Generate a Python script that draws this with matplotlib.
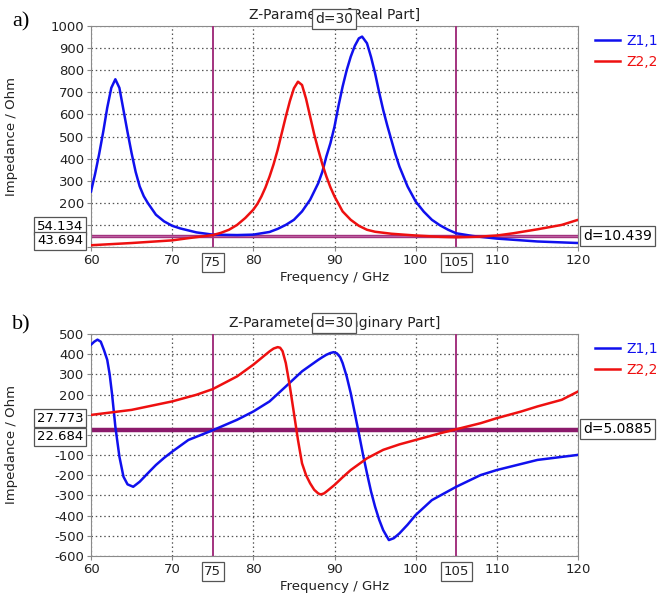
import numpy as np
import matplotlib
matplotlib.use("Agg")
from matplotlib import pyplot as plt

# ---- data ----
freq_re_z11 = [60, 60.5, 61, 61.5, 62, 62.5, 63, 63.5, 64, 64.5, 65, 65.5, 66, 66.5, 67, 68, 69, 70, 71, 72, 73, 75,
               78, 80, 82, 83, 84, 85, 86, 87, 88, 88.5, 89, 89.5, 90, 90.5, 91, 91.5, 92, 92.5, 93, 93.4, 94, 94.5,
               95, 95.5, 96, 96.5, 97, 97.5, 98, 99, 100, 101, 102, 103, 104, 105, 107, 110, 115, 120]
re_z11 = [251, 330, 420, 520, 630, 720, 759, 720, 620, 520, 425, 340, 274, 230, 199, 146, 116, 96, 84, 75, 66, 56,
          54, 56, 68, 82, 100, 123, 161, 214, 289, 340, 410, 470, 545, 640, 726, 800, 861, 910, 944, 952, 922, 860,
          786, 700, 620, 550, 485, 420, 364, 274, 206, 160, 123, 98, 78, 62, 50, 38, 25, 18]

freq_re_z22 = [60, 65, 70, 72, 75, 76, 77, 78, 79, 80, 80.5, 81, 81.5, 82, 82.5, 83, 83.5, 84, 84.5, 85, 85.5, 86,
               86.5, 87, 87.5, 88, 88.5, 89, 89.5, 90, 91, 92, 93, 94, 95, 97, 100, 103, 105, 108, 110, 112, 115, 118,
               120]
re_z22 = [8, 18, 30, 40, 54, 64, 78, 100, 131, 169, 195, 229, 270, 319, 375, 440, 515, 590, 660, 718, 748, 733, 670,
          590, 510, 440, 375, 319, 270, 229, 161, 123, 96, 78, 69, 60, 52, 46, 44, 47, 52, 62, 80, 100, 123]

freq_im_z11 = [60, 60.4, 60.8, 61.2, 61.6, 62, 62.3, 62.6, 63, 63.5, 64, 64.5, 65.2, 66, 67, 68, 69, 70, 72, 75, 78,
               80, 82, 84, 86, 88, 88.5, 89, 89.5, 89.9, 90.3, 90.7, 91, 91.5, 92, 92.5, 93, 93.5, 94, 94.5, 95, 95.5,
               96, 96.7, 97.3, 98, 99, 100, 102, 105, 108, 110, 115, 120]
im_z11 = [447, 462, 472, 462, 420, 372, 300, 200, 41, -108, -207, -245, -257, -232, -190, -149, -114, -83, -25, 23,
          75, 116, 166, 240, 315, 372, 385, 397, 406, 410, 404, 385, 356, 290, 207, 108, 8, -95, -190, -280, -356, -420,
          -472, -521, -512, -488, -445, -397, -323, -257, -199, -174, -124, -99]

freq_im_z22 = [60, 65, 70, 73, 75, 78, 80, 82, 82.5, 83, 83.3, 83.6, 84, 84.5, 85, 85.5, 86, 86.5, 87, 87.5, 88, 88.3,
               88.7, 89, 90, 91, 92, 94, 96, 98, 100, 103, 105, 108, 110, 113, 115, 118, 120]
im_z22 = [99, 124, 166, 199, 227, 290, 348, 414, 428, 435, 432, 415, 356, 240, 108, -25, -141, -200, -240, -272, -290,
          -295, -290, -281, -248, -210, -174, -116, -74, -47, -25, 8, 28, 58, 83, 116, 141, 174, 215]

markers_x = [75, 105]
markers_re = [54.134, 43.694]
markers_im = [27.773, 22.684]
d_re = "d=10.439"
d_im = "d=5.0885"

W, H = 665, 606
plt.rcParams["font.family"] = ["DejaVu Sans"]
fig = plt.figure(figsize=(W / 100, H / 100), dpi=100)

BLUE = "#1010ee"
RED = "#ee1010"
MAG = "#a3337f"
GRID = "#555555"
SPINE = "#8a8a8a"


def px(x, y):
    return x / W, 1 - y / H


box = dict(boxstyle="square,pad=0.2", fc="white", ec="#555555", lw=0.9)


def style_axes(ax, ylim, yticks, hide):
    ax.set_xlim(60, 120)
    ax.set_ylim(*ylim)
    ax.set_xticks([60, 70, 80, 90, 100, 110, 120])
    ax.set_yticks(yticks)
    ax.set_yticklabels(["" if t in hide else str(t) for t in yticks])
    ax.grid(True, color=GRID, linestyle=(0, (1.2, 2.2)), linewidth=0.9)
    ax.tick_params(labelsize=9.5, length=3, color=SPINE, labelcolor="#222222", pad=2)
    for s in ax.spines.values():
        s.set_color(SPINE)
    ax.set_xlabel("Frequency / GHz", fontsize=9.5, color="#222222", labelpad=3)
    ax.set_ylabel("Impedance / Ohm", fontsize=9.5, color="#222222")
    ax.yaxis.set_label_coords(-0.15, 0.5)
    for m in markers_x:
        ax.axvline(m, color=MAG, lw=1.4, zorder=3)
        ax.text(m, -0.07, str(m), transform=ax.get_xaxis_transform(), ha="center", va="center",
                fontsize=9.5, color="#222222", bbox=box)


# ---- a) real part ----
ax1 = fig.add_axes([91 / W, 1 - 247 / H, 487 / W, 221 / H])
style_axes(ax1, (0, 1000), list(range(0, 1001, 100)), [0, 100])
ax1.axhspan(markers_re[1], markers_re[0], color="#c060a8", alpha=0.85, lw=0, zorder=2)
for v in markers_re:
    ax1.axhline(v, color=MAG, lw=1.0, zorder=2)
ax1.plot(freq_re_z11, re_z11, color=BLUE, lw=1.8, label="Z1,1", zorder=4)
ax1.plot(freq_re_z22, re_z22, color=RED, lw=1.8, label="Z2,2", zorder=4)
ax1.set_title("Z-Parameters [Real Part]", fontsize=10, color="#222222", pad=5)
ax1.legend(loc="upper left", bbox_to_anchor=(1.01, 1.02), frameon=False, labelcolor="linecolor",
           fontsize=10, handlelength=1.8, handletextpad=0.4, labelspacing=0.5)

# ---- b) imaginary part ----
ax2 = fig.add_axes([91 / W, 1 - 556 / H, 487 / W, 222 / H])
style_axes(ax2, (-600, 500), list(range(-600, 501, 100)), [0, 100])
ax2.axhspan(markers_im[1], markers_im[0], color="#8b1a6b", lw=2.5, zorder=2)
ax2.plot(freq_im_z11, im_z11, color=BLUE, lw=1.8, label="Z1,1", zorder=4)
ax2.plot(freq_im_z22, im_z22, color=RED, lw=1.8, label="Z2,2", zorder=4)
ax2.set_title("Z-Parameters [Imaginary Part]", fontsize=10, color="#222222", pad=5)
ax2.legend(loc="upper left", bbox_to_anchor=(1.01, 1.02), frameon=False, labelcolor="linecolor",
           fontsize=10, handlelength=1.8, handletextpad=0.4, labelspacing=0.5)

# boxes: d=30 over titles, marker values and deltas
for ytop in (19, 323):
    fig.text(*px(334, ytop), "d=30", ha="center", va="center", fontsize=10, color="#222222", bbox=box)
fig.text(*px(60, 226), f"{markers_re[0]:.3f}", ha="center", va="center", fontsize=9.5, bbox=box)
fig.text(*px(60, 241), f"{markers_re[1]:.3f}", ha="center", va="center", fontsize=9.5, bbox=box)
fig.text(*px(60, 418), f"{markers_im[0]:.3f}", ha="center", va="center", fontsize=9.5, bbox=box)
fig.text(*px(60, 437), f"{markers_im[1]:.3f}", ha="center", va="center", fontsize=9.5, bbox=box)
fig.text(*px(583, 236), d_re, ha="left", va="center", fontsize=10, bbox=box)
fig.text(*px(583, 429), d_im, ha="left", va="center", fontsize=10, bbox=box)

fig.text(*px(12, 22), "a)", ha="left", va="center", fontsize=16, family="Liberation Serif")
fig.text(*px(12, 325), "b)", ha="left", va="center", fontsize=16, family="Liberation Serif")

fig.savefig("out.png", dpi=100)
